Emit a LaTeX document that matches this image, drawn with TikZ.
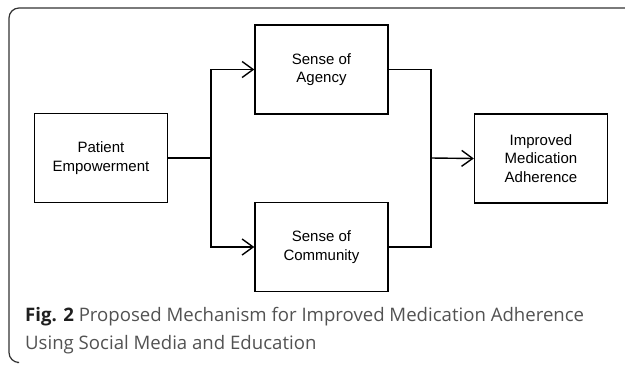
\documentclass[tikz,border=0pt]{standalone}
\usepackage{fontspec}
\setmainfont{Liberation Sans}
\newfontfamily\capfont{Open Sans}
\usetikzlibrary{arrows.meta}
\begin{document}
\begin{tikzpicture}[x=1pt,y=-1pt,
  box/.style={draw,line width=1.4pt,minimum width=133pt,minimum height=89pt,align=center,
    font=\fontsize{15}{18.5}\selectfont,inner sep=0pt},
  conn/.style={line width=1.4pt},
  arr/.style={conn,-{Straight Barb[length=11pt,width=16pt,line width=1.4pt]}}]
\useasboundingbox (0,0) rectangle (625,365);
\draw[line width=1.2pt,color=black!80,rounded corners=10pt] (17,362.5) -- (9,362.5) -- (9,8) -- (626,8);
\node[box] (pe) at (101,158) {Patient\\Empowerment};
\node[box] (sa) at (321.5,69.5) {Sense of\\Agency};
\node[box] (sc) at (321.5,247) {Sense of\\Community};
\node[box] (im) at (541,158.5) {Improved\\Medication\\Adherence};
\coordinate (j1) at (211,158);
\coordinate (j2) at (431,158);
\draw[conn] (pe.east) -- (j1);
\draw[arr] (j1) |- (sa.west);
\draw[arr] (j1) |- (sc.west);
\draw[conn] (sa.east) -| (j2);
\draw[conn] (sc.east) -| (j2);
\draw[arr] (j2) -- (im.west);
\node[anchor=north west,align=left,inner sep=0pt,font=\capfont\fontsize{18.6}{28}\selectfont,text=black!68] (cap) at (25,307)
  {{\bfseries\color{black!88}Fig. 2} Proposed Mechanism for Improved Medication Adherence\\Using Social Media and Education};
\end{tikzpicture}
\end{document}
